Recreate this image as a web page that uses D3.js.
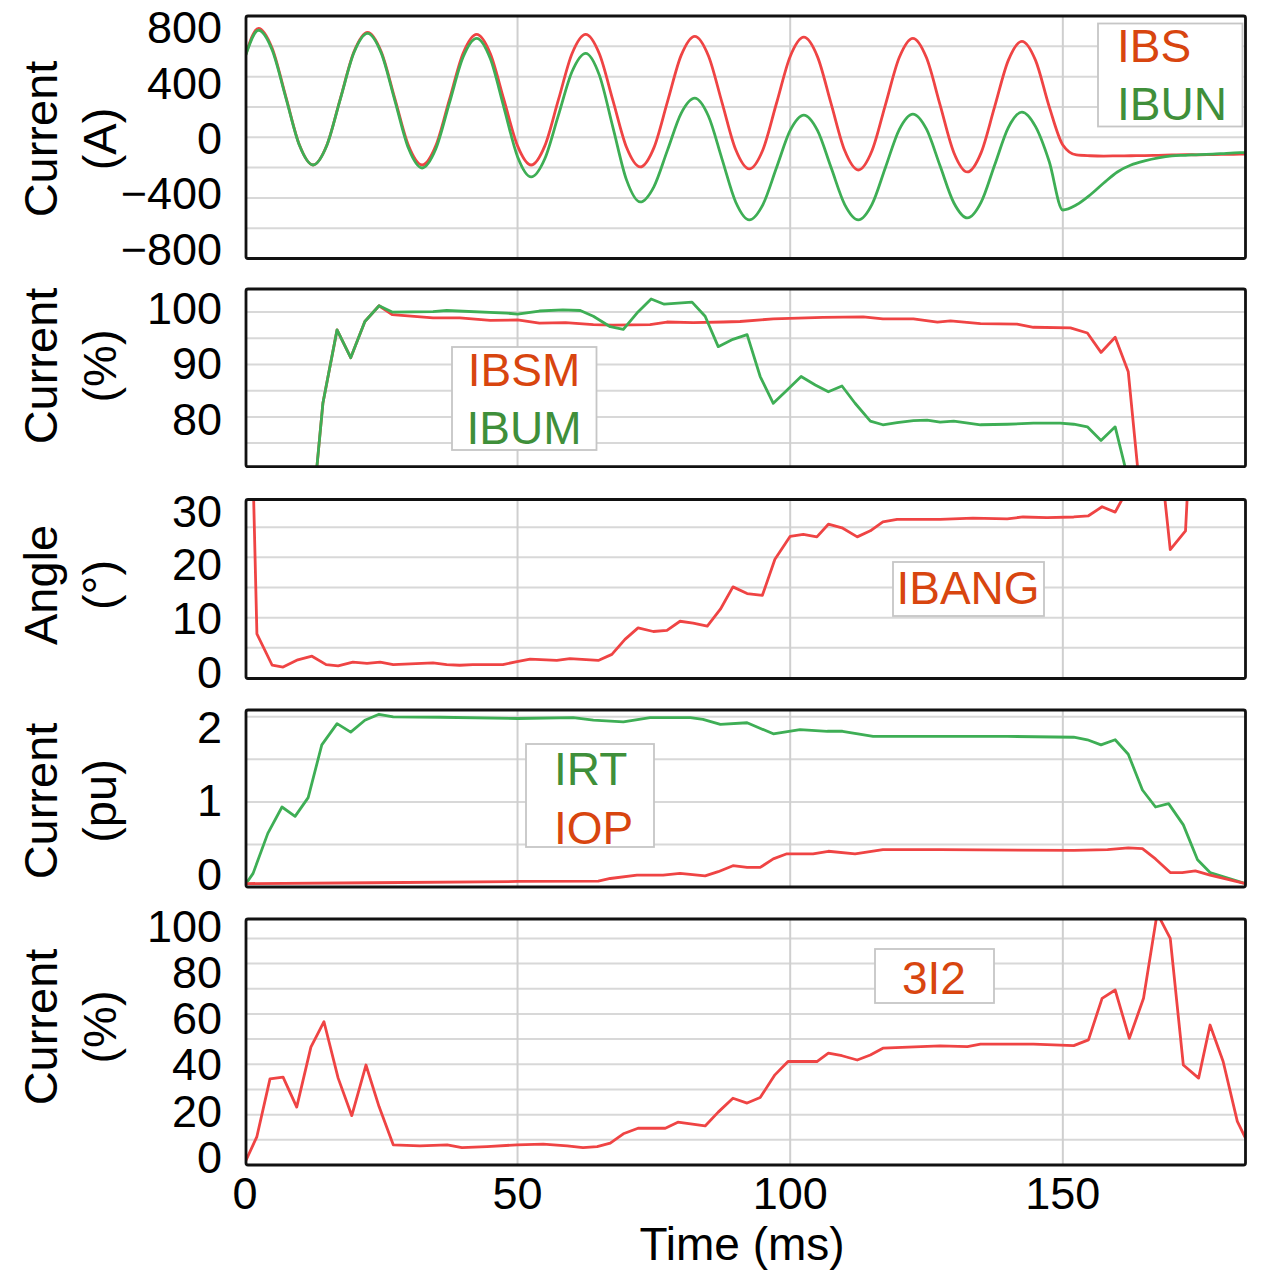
<!DOCTYPE html>
<html>
<head>
<meta charset="utf-8">
<script src="https://cdn.jsdelivr.net/npm/d3@7"></script>
<style>
  body { margin: 0; background: #fff; }
  svg text { font-family: "Liberation Sans", Arial, sans-serif; }
</style>
</head>
<body>
<svg id="chart" width="1263" height="1270"></svg>
<script>
"use strict";

// raw waveforms are sampled every 2.5 ms starting at t = 0
const waveStep = 2.5;

// IBS (A)
const ibs = [528, 719, 587, 268, -51, -183, -55, 255, 564, 692,
	564, 255, -55, -183, -57, 248, 553, 679, 553, 248,
	-57, -183, -57, 248, 553, 679, 551, 242, -68, -196,
	-70, 235, 540, 666, 538, 229, -81, -209, -82, 226,
	533, 660, 532, 222, -88, -216, -89, 219, 526, 653,
	524, 212, -100, -229, -103, 202, 507, 633, 507, 202,
	-51, -117, -122, -124, -123, -122, -121, -119, -117, -115,
	-116, -114, -113, -112, -111];

// IBUN (A)
const ibun = [525, 706, 576, 262, -53, -183, -56, 252, 559, 686,
	556, 242, -73, -203, -78, 225, 528, 653, 519, 196,
	-128, -262, -142, 146, 434, 554, 410, 64, -283, -427,
	-327, -85, 158, 258, 140, -144, -427, -545, -444, -200,
	45, 146, 45, -200, -444, -545, -443, -196, 51, 153,
	53, -190, -432, -532, -430, -183, 64, 166, 70, -160,
	-480, -446, -381, -302, -229, -183, -156, -136, -123, -119,
	-114, -111, -106, -102, -100];

// [time ms, value] pairs
const ibsm = [[11.8, 55], [14.3, 82.6], [16.9, 96.6], [19.4, 91.3], [22, 98.2], [24.6, 101.2], [27, 99.5],
	[34.5, 98.9], [39.4, 98.9], [45, 98.4], [50, 98.5], [54, 97.9], [58.8, 98.0], [63.9, 97.6], [67.5, 97.5],
	[74.3, 97.6], [77.4, 98.1], [82.2, 98.0], [87.7, 98.1], [90.8, 98.2], [96.9, 98.7], [106, 99.0],
	[113.4, 99.1], [117, 98.7], [122.6, 98.7], [127, 98.1], [129.4, 98.3], [134.9, 97.8], [141.6, 97.7],
	[144.6, 97.1], [151.4, 97.0], [154.5, 96.0], [157, 92.3], [159.6, 95.2], [162, 88.6], [164.5, 62]];

const ibum = [[11.8, 55], [14.3, 82.6], [16.9, 96.6], [19.4, 91.3], [22, 98.2], [24.6, 101.2], [27, 100],
	[34.5, 100.1], [37, 100.3], [48, 99.8], [50, 99.6], [54, 100.2], [58.3, 100.4], [61.5, 100.3],
	[63.9, 99.2], [67, 97.2], [69.4, 96.7], [71.9, 99.8], [74.5, 102.5], [76.9, 101.5], [82, 101.9],
	[84.4, 99.2], [86.8, 93.4], [89.5, 94.8], [92.1, 95.7], [94.5, 87.7], [96.9, 82.6], [99.4, 85.1],
	[102, 87.7], [104.6, 86.1], [107, 84.8], [109.5, 85.9], [111.9, 82.6], [114.7, 79.2], [117, 78.5],
	[119.6, 78.9], [122.6, 79.3], [125.1, 79.4], [127.5, 79.0], [130, 79.2], [134.9, 78.5], [139.8, 78.6],
	[144.6, 78.8], [149.5, 78.8], [152, 78.6], [154.5, 78.1], [157, 75.5], [159.6, 78.1], [162, 68]];

const ibang = [[0, 90], [2.2, 7.3], [5, 2.1], [7, 1.8], [9.7, 3.0], [12.3, 3.6], [14.9, 2.2], [17.1, 2.0],
	[19.8, 2.6], [22.4, 2.4], [24.8, 2.6], [27.2, 2.2], [34.5, 2.5], [37, 2.2], [39.4, 2.1], [41.8, 2.2],
	[47.3, 2.2], [49.9, 2.7], [52.3, 3.1], [57.2, 2.9], [59.6, 3.2], [64.8, 2.9], [67.3, 3.9], [69.7, 6.4],
	[72.1, 8.3], [74.9, 7.7], [77.4, 7.9], [79.8, 9.4], [82.2, 9.1], [84.8, 8.6], [87.2, 11.4], [89.5, 15.1],
	[92.1, 14.0], [94.9, 13.7], [97.2, 19.7], [100, 23.5], [102.4, 23.8], [104.9, 23.4], [107, 25.5],
	[109.5, 24.9], [112.3, 23.4], [114.7, 24.4], [117, 25.9], [119.6, 26.3], [127.5, 26.3], [133.5, 26.5],
	[139.8, 26.4], [142.7, 26.7], [147.1, 26.6], [152, 26.7], [154.7, 26.9], [157.2, 28.4], [159.6, 27.5],
	[162, 31.5], [167.5, 40], [169.7, 21.3], [172.5, 24.4], [174.5, 60], [183.5, 60]];

const irt = [[0, 0.02], [1.5, 0.16], [4.2, 0.63], [6.8, 0.94], [9.2, 0.83], [11.6, 1.05], [14.1, 1.67],
	[16.9, 1.92], [19.4, 1.82], [22, 1.96], [24.6, 2.03], [27.2, 2.0], [35.8, 1.995], [50, 1.98], [60.2, 1.99],
	[63.9, 1.96], [69.4, 1.94], [74.3, 1.99], [81.7, 1.99], [84, 1.97], [87.2, 1.91], [92.1, 1.93],
	[96.9, 1.80], [101.8, 1.85], [106.8, 1.83], [109.6, 1.83], [115.2, 1.77], [127.5, 1.77], [139.8, 1.77],
	[152, 1.76], [154.5, 1.73], [157, 1.67], [159.6, 1.73], [162, 1.56], [164.6, 1.14], [167, 0.94],
	[169.4, 0.98], [172.1, 0.73], [174.7, 0.32], [177, 0.17], [183.5, 0.04]];

const iop = [[0, 0.04], [23.5, 0.05], [50, 0.065], [64.8, 0.07], [67, 0.1], [71.9, 0.14], [76.7, 0.14],
	[79.8, 0.16], [84.4, 0.13], [86.8, 0.18], [89.5, 0.25], [92.1, 0.23], [94.5, 0.23], [96.9, 0.33],
	[99.4, 0.39], [104.2, 0.39], [107, 0.42], [111.9, 0.39], [117, 0.44], [127.5, 0.44], [152, 0.43],
	[158.2, 0.44], [162, 0.46], [164.6, 0.45], [167, 0.33], [169.7, 0.17], [171.9, 0.17], [174.3, 0.19],
	[177, 0.14], [183.5, 0.04]];

const neg3i2 = [[0, 0.9], [2.2, 11.3], [4.6, 34.2], [7, 34.9], [9.5, 23.0], [12.1, 46.8], [14.5, 56.9],
	[17.1, 34.5], [19.6, 19.6], [22.2, 39.7], [24.6, 23.2], [27.2, 8.0], [32.1, 7.6], [37.1, 8.0], [39.8, 6.9],
	[44.4, 7.3], [49.9, 8.0], [54.7, 8.3], [59.1, 7.6], [62, 6.9], [64.6, 7.3], [67, 8.7], [69.4, 12.4],
	[72.1, 14.6], [77.1, 14.6], [79.4, 17.0], [84.4, 15.5], [86.8, 21.0], [89.5, 26.5], [92.1, 24.6],
	[94.5, 26.8], [97.2, 35.8], [99.6, 41.1], [104.9, 41.1], [107, 44.4], [109.5, 43.4], [112.3, 41.7],
	[114.7, 43.7], [117, 46.4], [127.5, 47.3], [132.5, 47.0], [134.9, 48.0], [144.6, 48.0], [152, 47.4],
	[154.7, 49.7], [157.2, 66.2], [159.6, 69.5], [162.2, 50.3], [164.8, 66.2], [167.3, 100], [169.7, 90.0],
	[172.1, 39.7], [174.9, 34.5], [177, 55.6], [179.4, 41.1], [182, 17.3], [183.5, 10.7]];

// axes
const timeTicks = [0, 50, 100, 150];
const timeGrid = [50, 100, 150];

const ampTicks = [800, 400, 0, -400, -800];
const ampGrid = [-600, -400, -200, 0, 200, 400, 600];
const pctTicks = [100, 90, 80];
const pctGrid = [75, 80, 85, 90, 95, 100];
const angTicks = [30, 20, 10, 0];
const angGrid = [5, 10, 15, 20, 25];
const puTicks = [2, 1, 0];
const puGrid = [0.5, 1, 1.5, 2];
const negTicks = [100, 80, 60, 40, 20, 0];
const negGrid = [10, 20, 30, 40, 50, 60, 70, 80, 90];

const RED = "#ef4444";
const GREEN = "#3eae55";
const ORANGE_TXT = "#d8450f";
const GREEN_TXT = "#3f8f3a";

const toPairs = vals => vals.map((v, i) => [i * waveStep, v]);

const panels = [
	{
		top: 16, bottom: 258.5, domain: [-800, 800], grid: ampGrid, ticks: ampTicks,
		labelDomain: [-800, 800], labelRange: [248, 26.7], title: ["Current", "(A)"], titleY: 139,
		curve: d3.curveMonotoneX,
		series: [{ data: toPairs(ibs), color: RED }, { data: toPairs(ibun), color: GREEN }],
		legend: { x: 1098, y: 23.5, w: 144.5, h: 103, anchor: "start",
			items: [{ text: "IBS", color: ORANGE_TXT, x: 1117, y: 62 }, { text: "IBUN", color: GREEN_TXT, x: 1117, y: 120 }] }
	},
	{
		top: 289, bottom: 466.7, domain: [70.5, 104.4], grid: pctGrid, ticks: pctTicks,
		labelDomain: [80, 100], labelRange: [418, 307.5], title: ["Current", "(%)"], titleY: 366,
		curve: d3.curveLinear,
		series: [{ data: ibsm, color: RED }, { data: ibum, color: GREEN }],
		legend: { x: 452, y: 347, w: 144.5, h: 103, anchor: "middle",
			items: [{ text: "IBSM", color: ORANGE_TXT, x: 524, y: 386 }, { text: "IBUM", color: GREEN_TXT, x: 524, y: 444 }] }
	},
	{
		top: 499.5, bottom: 678.5, domain: [-0.1, 29.6], grid: angGrid, ticks: angTicks,
		labelDomain: [0, 30], labelRange: [671, 510], title: ["Angle", "(°)"], titleY: 585,
		curve: d3.curveLinear,
		series: [{ data: ibang, color: RED }],
		legend: { x: 893, y: 562, w: 151, h: 54, anchor: "middle",
			items: [{ text: "IBANG", color: ORANGE_TXT, x: 968, y: 603.5 }] }
	},
	{
		top: 710, bottom: 887, domain: [0, 2.08], grid: puGrid, ticks: puTicks,
		labelDomain: [0, 2], labelRange: [873, 726], title: ["Current", "(pu)"], titleY: 801,
		curve: d3.curveLinear,
		series: [{ data: irt, color: GREEN }, { data: iop, color: RED }],
		legend: { x: 526, y: 744, w: 128, h: 103, anchor: "start",
			items: [{ text: "IRT", color: GREEN_TXT, x: 554, y: 785 }, { text: "IOP", color: ORANGE_TXT, x: 554, y: 844 }] }
	},
	{
		top: 919, bottom: 1165, domain: [0, 97.7], grid: negGrid, ticks: negTicks,
		labelDomain: [0, 100], labelRange: [1156, 925], title: ["Current", "(%)"], titleY: 1027,
		curve: d3.curveLinear,
		series: [{ data: neg3i2, color: RED }],
		legend: { x: 875, y: 949, w: 119, h: 54, anchor: "start",
			items: [{ text: "3I2", color: ORANGE_TXT, x: 902, y: 993.5 }] }
	}
];

const svg = d3.select("#chart");

const x = d3.scaleLinear().domain([0.2, 183.5]).range([246, 1245.5]);
const [x0, x1] = x.range();

const fmt = d => d < 0 ? "\u2212" + Math.abs(d) : String(d);

panels.forEach((p, i) => {
	const y = d3.scaleLinear().domain(p.domain).range([p.bottom, p.top]);
	const g = svg.append("g");

	const clipId = "clip" + i;
	svg.append("clipPath").attr("id", clipId)
		.append("rect")
		.attr("x", x0).attr("y", p.top)
		.attr("width", x1 - x0).attr("height", p.bottom - p.top);

	// gridlines
	g.selectAll("line.hgrid")
		.data(p.grid)
		.join("line")
		.attr("class", "hgrid")
		.attr("x1", x0).attr("x2", x1)
		.attr("y1", d => y(d)).attr("y2", d => y(d))
		.attr("stroke", "#d8d8d8")
		.attr("stroke-width", 2);

	g.selectAll("line.vgrid")
		.data(timeGrid)
		.join("line")
		.attr("class", "vgrid")
		.attr("x1", d => x(d)).attr("x2", d => x(d))
		.attr("y1", p.top).attr("y2", p.bottom)
		.attr("stroke", "#cfcfcf")
		.attr("stroke-width", 2);

	// traces
	const line = d3.line()
		.x(d => x(d[0]))
		.y(d => y(d[1]))
		.curve(p.curve);

	p.series.forEach(s => {
		g.append("path")
			.attr("clip-path", `url(#${clipId})`)
			.attr("d", line(s.data))
			.attr("fill", "none")
			.attr("stroke", s.color)
			.attr("stroke-width", 2.8)
			.attr("stroke-linejoin", "round");
	});

	// legend box
	const lg = p.legend;
	g.append("rect")
		.attr("x", lg.x).attr("y", lg.y)
		.attr("width", lg.w).attr("height", lg.h)
		.attr("fill", "#fff")
		.attr("stroke", "#c6c6c6")
		.attr("stroke-width", 1.8);
	g.selectAll("text.leg")
		.data(lg.items)
		.join("text")
		.attr("class", "leg")
		.attr("x", d => d.x).attr("y", d => d.y)
		.attr("text-anchor", lg.anchor)
		.attr("font-size", 46)
		.attr("fill", d => d.color)
		.text(d => d.text);

	// frame
	g.append("rect")
		.attr("x", x0).attr("y", p.top)
		.attr("width", x1 - x0).attr("height", p.bottom - p.top)
		.attr("rx", 2)
		.attr("fill", "none")
		.attr("stroke", "#111")
		.attr("stroke-width", 2.8);

	// tick labels (the labels sit on their own, slightly compressed scale)
	const labelY = d3.scaleLinear().domain(p.labelDomain).range(p.labelRange);
	const axis = g.append("g")
		.attr("transform", "translate(222,0)")
		.call(d3.axisLeft(labelY).tickValues(p.ticks).tickSize(0).tickPadding(0).tickFormat(fmt));
	axis.select(".domain").remove();
	axis.attr("font-family", null).attr("font-size", null);
	axis.selectAll("text")
		.attr("font-size", 45)
		.attr("fill", "#000")
		.attr("dy", "0.36em");

	// axis title, two lines
	g.selectAll("text.title")
		.data(p.title)
		.join("text")
		.attr("class", "title")
		.attr("transform", (d, k) => `translate(${k === 0 ? 57 : 116},${p.titleY}) rotate(-90)`)
		.attr("text-anchor", "middle")
		.attr("font-size", 47)
		.attr("fill", "#000")
		.text(d => d);
});

// time axis labels
svg.append("g")
	.selectAll("text")
	.data(timeTicks)
	.join("text")
	.attr("x", d => x(d))
	.attr("y", 1209)
	.attr("text-anchor", "middle")
	.attr("font-size", 45)
	.attr("fill", "#000")
	.text(d => d);

svg.append("text")
	.attr("x", 742)
	.attr("y", 1260)
	.attr("text-anchor", "middle")
	.attr("font-size", 46)
	.attr("fill", "#000")
	.text("Time (ms)");
</script>
</body>
</html>
